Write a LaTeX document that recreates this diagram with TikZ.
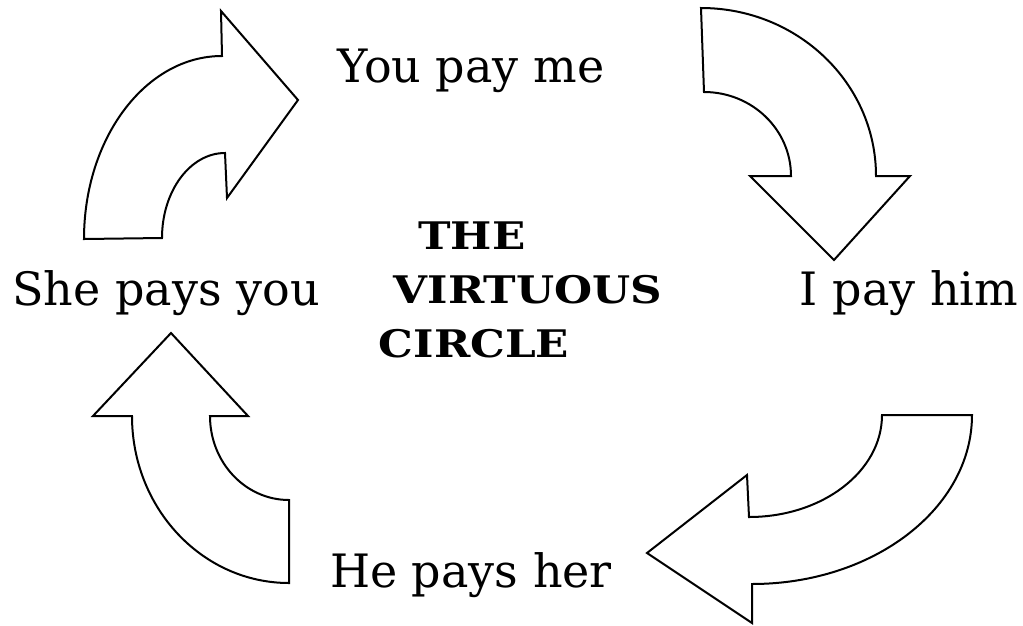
\documentclass[tikz,border=0pt]{standalone}
\usepackage{fontspec}
\setmainfont{DejaVu Serif}
\newfontfamily\titlefont[FakeStretch=1.15]{DejaVu Serif}
\usepackage{tikz}
\usetikzlibrary{positioning}

\tikzset{
  blockarrow/.style={draw=black, fill=white, line width=2pt, line join=miter},
  paytext/.style={anchor=base, inner sep=0pt, font=\fontsize{46}{50}\selectfont},
  titletext/.style={anchor=base, inner sep=0pt, font=\titlefont\fontsize{38}{42}\selectfont\bfseries}
}

\begin{document}
\begin{tikzpicture}[x=1pt, y=-1pt]
    \useasboundingbox (0,0) rectangle (1023,625);

    % 1. Mũi tên trên trái (chỉ sang phải)
    \draw[blockarrow] (84,239) -- (162,238)
        arc[start angle=180, end angle=270, x radius=63, y radius=85]
        -- (227,198) -- (298,100) -- (221,11) -- (222,56)
        arc[start angle=270, end angle=180, x radius=138, y radius=183] -- cycle;

    % 2. Mũi tên trên phải (chỉ xuống)
    \draw[blockarrow] (701,8) -- (704,92)
        arc[start angle=270, end angle=360, x radius=87, y radius=84]
        -- (750,176) -- (834,260) -- (910,176) -- (876,176)
        arc[start angle=0, end angle=-90, x radius=175, y radius=168] -- cycle;

    % 3. Mũi tên dưới phải (chỉ sang trái)
    \draw[blockarrow] (882,415) -- (972,415)
        arc[start angle=0, end angle=90, x radius=220, y radius=169]
        -- (752,623) -- (647,553) -- (747,475) -- (749,517)
        arc[start angle=90, end angle=0, x radius=133, y radius=102] -- cycle;

    % 4. Mũi tên dưới trái (chỉ lên)
    \draw[blockarrow] (171,333) -- (93,416) -- (132,416)
        arc[start angle=180, end angle=90, x radius=157, y radius=167]
        -- (289,500)
        arc[start angle=90, end angle=180, x radius=79, y radius=84]
        -- (248,416) -- cycle;

    % Các dòng chữ quanh vòng
    \node[paytext] (youme) at (471,82) {You pay me};
    \node[paytext] (ihim) at (909,305) {I pay him};
    \node[paytext] (heher) at (471,587) {He pays her};
    \node[paytext] (sheyou) at (166,305) {She pays you};

    % Tiêu đề ở giữa
    \node[titletext] (the) at (472,249) {THE};
    \node[titletext] (virtuous) at (528,303) {VIRTUOUS};
    \node[titletext] (circle) at (474,357) {CIRCLE};
\end{tikzpicture}
\end{document}
